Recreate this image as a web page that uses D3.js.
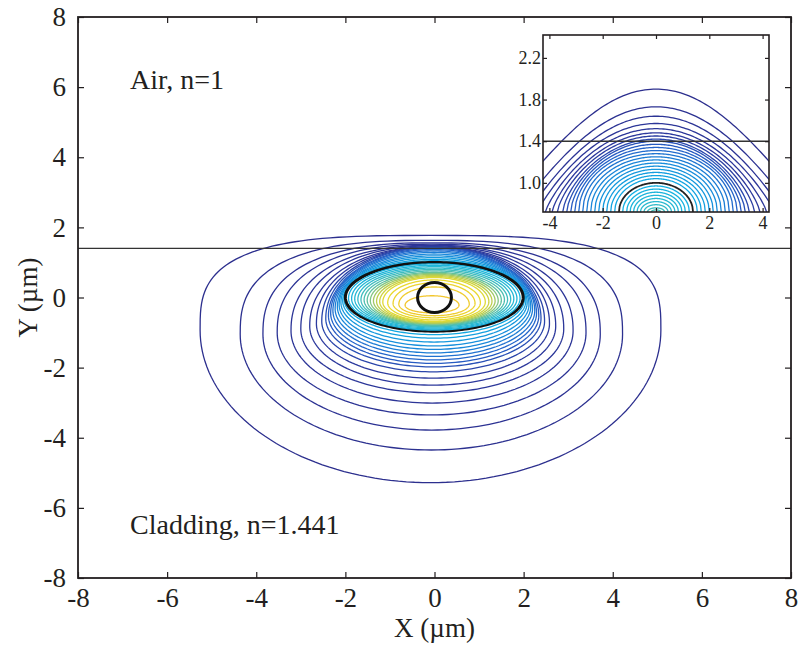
<!DOCTYPE html>
<html>
<head>
<meta charset="utf-8">
<script src="https://cdn.jsdelivr.net/npm/d3@7"></script>
<style>
  body { margin: 0; background: #fff; }
  text { font-family: "Liberation Serif", "Times New Roman", serif; fill: #231f20; }
</style>
</head>
<body>
<svg id="chart" width="801" height="645"></svg>
<script>
// ---- data (units: micrometres) ----
var xTicks = [-8, -6, -4, -2, 0, 2, 4, 6, 8];
var yTicks = [-8, -6, -4, -2, 0, 2, 4, 6, 8];
var interfaceY = 1.4;

// main contour levels, outermost first: left/right extent, top/bottom at x=0, y of widest point
var cLeft   = [-5.26,-4.36,-3.85,-3.53,-3.22,-3.00,-2.80,-2.65,-2.53,-2.44,
               -2.38,-2.33,-2.28,-2.23,-2.18,-2.14,-2.10,-2.06,-2.03,
               -2.00,
               -1.93,-1.86,-1.79,-1.72,-1.65,-1.58,-1.51,-1.44,-1.37,-1.30,-1.23,-1.16,-1.05,-0.93,-0.80,-0.66];
var cRight  = [ 5.08, 4.22, 3.72, 3.40, 3.11, 2.90, 2.72, 2.58, 2.47, 2.39,
                2.34, 2.29, 2.25, 2.20, 2.16, 2.12, 2.08, 2.05, 2.02,
                1.99,
                1.92, 1.85, 1.78, 1.71, 1.64, 1.57, 1.50, 1.43, 1.36, 1.29, 1.22, 1.14, 1.03, 0.91, 0.78, 0.55];
var cTop    = [ 1.77, 1.63, 1.56, 1.52, 1.49, 1.47, 1.45, 1.44, 1.43, 1.42,
                1.40, 1.37, 1.33, 1.29, 1.24, 1.19, 1.14, 1.09, 1.05,
                1.00,
                0.96, 0.92, 0.88, 0.84, 0.80, 0.76, 0.72, 0.69, 0.66, 0.63, 0.60, 0.57, 0.50, 0.42, 0.30, 0.05];
var cBottom = [-5.28,-4.35,-3.78,-3.35,-3.01,-2.72,-2.50,-2.30,-2.12,-1.98,
               -1.88,-1.78,-1.68,-1.58,-1.48,-1.38,-1.27,-1.16,-1.06,
               -0.96,
               -0.93,-0.90,-0.87,-0.84,-0.82,-0.80,-0.78,-0.76,-0.74,-0.72,-0.70,-0.68,-0.64,-0.58,-0.52,-0.44];
var cWaist  = [-0.93,-1.05,-1.05,-1.00,-0.95,-0.90,-0.82,-0.75,-0.68,-0.60,
               -0.52,-0.45,-0.38,-0.32,-0.26,-0.20,-0.14,-0.09,-0.04,
                0.00,
               -0.02,-0.03,-0.04,-0.05,-0.06,-0.07,-0.08,-0.09,-0.10,-0.11,-0.12,-0.13,-0.15,-0.17,-0.19,-0.22];
var blackLevel = 19;            // index of the thick black contour
var coreCircle = {cx: 0, cy: 0, rx: 0.38, ry: 0.43};

// inset: arch tops (y at x=0) and half width where each arch meets the inset floor
var insetXTicks = [-4, -2, 0, 2, 4];
var insetYTicks = [1.0, 1.4, 1.8, 2.2];
var aTop  = [1.90,1.73,1.64,1.57,1.52,1.48,1.45,1.42,1.40,1.37,1.34,1.31,1.28,1.25,1.22,1.19,1.16,1.13,1.10,1.07,1.04,
             1.00,0.97,0.94,0.91,0.88,0.85,0.82,0.79,0.76,0.74];
var aHalf = [6.2,5.3,4.8,4.45,4.15,3.9,3.7,3.5,3.35,3.2,3.05,2.9,2.75,2.6,2.45,2.3,2.15,2.0,1.85,1.7,1.55,
             1.39,1.25,1.1,0.97,0.84,0.71,0.58,0.45,0.32,0.18];
var insetBlack = 21;

// ---- layout ----
var svg = d3.select("#chart");
var m = {left: 78, right: 791, top: 17, bottom: 578};
var x = d3.scaleLinear().domain([-8, 8]).range([m.left, m.right]);
var y = d3.scaleLinear().domain([-8, 8]).range([m.bottom, m.top]);
var fmt = function (d) { return String(d); };

var parula = d3.scaleLinear()
    .domain([0, 0.2, 0.3, 0.4, 0.5, 0.56, 0.65, 0.74, 0.82, 0.9, 1])
    .range(["#2c2f8e", "#2c3a9e", "#2560c8", "#1a88da", "#12a4e0", "#14b0e2",
            "#2bbad0", "#5cc0a4", "#b8cc50", "#e8dc30", "#f2c62e"])
    .interpolate(d3.interpolateRgb);

svg.append("clipPath").attr("id", "mainClip").append("rect")
    .attr("x", m.left).attr("y", m.top)
    .attr("width", m.right - m.left).attr("height", m.bottom - m.top);

// closed curve through the four extents of one contour; tops above the interface flatten out
function contourPoints(i) {
  var cx = (cLeft[i] + cRight[i]) / 2, w = cWaist[i];
  var nT = 2 + 1.1 * Math.max(0, Math.min(1, (cTop[i] - interfaceY) / 0.37)), nB = 2;
  var pts = [];
  for (var k = 0; k < 180; k++) {
    var a = k / 180 * 2 * Math.PI, c = Math.cos(a), s = Math.sin(a);
    var n = s >= 0 ? nT : nB;
    var rx = c >= 0 ? cRight[i] - cx : cx - cLeft[i];
    var ry = s >= 0 ? cTop[i] - w : w - cBottom[i];
    pts.push([cx + rx * Math.sign(c) * Math.pow(Math.abs(c), 2 / n),
              w + ry * Math.sign(s) * Math.pow(Math.abs(s), 2 / n)]);
  }
  return pts;
}

var line = d3.line().x(function (d) { return x(d[0]); }).y(function (d) { return y(d[1]); })
    .curve(d3.curveLinearClosed);

var g = svg.append("g").attr("clip-path", "url(#mainClip)");
var nC = cLeft.length;
d3.range(nC).forEach(function (i) {
  g.append("path")
    .attr("d", line(contourPoints(i)))
    .attr("fill", "none")
    .attr("stroke", i == blackLevel ? "#111" : parula(i / (nC - 1)))
    .attr("stroke-width", i == blackLevel ? 3 : 1.3);
});

g.append("ellipse")
  .attr("cx", x(coreCircle.cx)).attr("cy", y(coreCircle.cy))
  .attr("rx", x(coreCircle.rx) - x(0)).attr("ry", y(0) - y(coreCircle.ry))
  .attr("fill", "none").attr("stroke", "#111").attr("stroke-width", 3);

g.append("line")
  .attr("x1", x(-8)).attr("x2", x(8)).attr("y1", y(interfaceY)).attr("y2", y(interfaceY))
  .attr("stroke", "#333").attr("stroke-width", 1.3);

// axes, ticks pointing inward on all four sides
function styleAxis(sel, size) {
  sel.select(".domain").remove();
  sel.selectAll(".tick line").attr("stroke", "#231f20").attr("stroke-width", 1.2);
  sel.selectAll("text").attr("font-size", size).attr("fill", "#231f20")
     .attr("font-family", "Liberation Serif, serif");
}
svg.append("g").attr("transform", "translate(0," + m.bottom + ")")
  .call(d3.axisBottom(x).tickValues(xTicks).tickSize(-6).tickPadding(10).tickFormat(fmt))
  .call(styleAxis, 27);
svg.append("g").attr("transform", "translate(0," + m.top + ")")
  .call(d3.axisTop(x).tickValues(xTicks).tickSize(-6).tickFormat(""))
  .call(styleAxis, 27);
svg.append("g").attr("transform", "translate(" + m.left + ",0)")
  .call(d3.axisLeft(y).tickValues(yTicks).tickSize(-6).tickPadding(12).tickFormat(fmt))
  .call(styleAxis, 27);
svg.append("g").attr("transform", "translate(" + m.right + ",0)")
  .call(d3.axisRight(y).tickValues(yTicks).tickSize(-6).tickFormat(""))
  .call(styleAxis, 27);
svg.append("rect").attr("x", m.left).attr("y", m.top)
  .attr("width", m.right - m.left).attr("height", m.bottom - m.top)
  .attr("fill", "none").attr("stroke", "#231f20").attr("stroke-width", 1.8);

svg.append("text").attr("x", x(0)).attr("y", 637).attr("text-anchor", "middle")
  .attr("font-size", 27).text("X (\u00b5m)");
svg.append("text").attr("transform", "translate(37," + y(0) + ") rotate(-90)")
  .attr("text-anchor", "middle").attr("font-size", 27).text("Y (\u00b5m)");
svg.append("text").attr("x", 130).attr("y", 89).attr("font-size", 28).text("Air, n=1");
svg.append("text").attr("x", 130).attr("y", 534).attr("font-size", 28).text("Cladding, n=1.441");

// ---- inset ----
var im = {left: 543, right: 769, top: 35, bottom: 212};
var ix = d3.scaleLinear().domain([-4.24, 4.24]).range([im.left, im.right]);
var iy = d3.scaleLinear().domain([0.72, 2.42]).range([im.bottom, im.top]);
var ins = svg.append("g");
ins.append("rect").attr("x", im.left).attr("y", im.top)
  .attr("width", im.right - im.left).attr("height", im.bottom - im.top).attr("fill", "#fff");
svg.append("clipPath").attr("id", "insetClip").append("rect")
  .attr("x", im.left).attr("y", im.top)
  .attr("width", im.right - im.left).attr("height", im.bottom - im.top);

var iline = d3.line().x(function (d) { return ix(d[0]); }).y(function (d) { return iy(d[1]); });
var ig = ins.append("g").attr("clip-path", "url(#insetClip)");
var nA = aTop.length;
d3.range(nA).forEach(function (j) {
  var base = 0.72, k = 0.5 + 0.9 * Math.max(0, Math.min(1, (aTop[j] - 1.3) / 0.6));
  var pts = d3.range(121).map(function (t) {
    var u = -1 + 2 * t / 120;
    return [u * aHalf[j], base + (aTop[j] - base) * Math.pow(1 - u * u, k)];
  });
  ig.append("path").attr("d", iline(pts)).attr("fill", "none")
    .attr("stroke", j == insetBlack ? "#222" : parula(0.7 * Math.pow(j / (nA - 1), 0.75)))
    .attr("stroke-width", j == insetBlack ? 1.8 : 1.3);
});
ig.append("line").attr("x1", im.left).attr("x2", im.right)
  .attr("y1", iy(interfaceY)).attr("y2", iy(interfaceY))
  .attr("stroke", "#333").attr("stroke-width", 1.5);

ins.append("g").attr("transform", "translate(0," + im.bottom + ")")
  .call(d3.axisBottom(ix).tickValues(insetXTicks).tickSize(-4).tickPadding(4).tickFormat(fmt))
  .call(styleAxis, 18);
ins.append("g").attr("transform", "translate(0," + im.top + ")")
  .call(d3.axisTop(ix).tickValues(insetXTicks).tickSize(-4).tickFormat(""))
  .call(styleAxis, 18);
ins.append("g").attr("transform", "translate(" + im.left + ",0)")
  .call(d3.axisLeft(iy).tickValues(insetYTicks).tickSize(-4).tickPadding(2).tickFormat(d3.format(".1f")))
  .call(styleAxis, 18);
ins.append("g").attr("transform", "translate(" + im.right + ",0)")
  .call(d3.axisRight(iy).tickValues(insetYTicks).tickSize(-4).tickFormat(""))
  .call(styleAxis, 18);
ins.append("rect").attr("x", im.left).attr("y", im.top)
  .attr("width", im.right - im.left).attr("height", im.bottom - im.top)
  .attr("fill", "none").attr("stroke", "#231f20").attr("stroke-width", 1.6);
</script>
</body>
</html>
